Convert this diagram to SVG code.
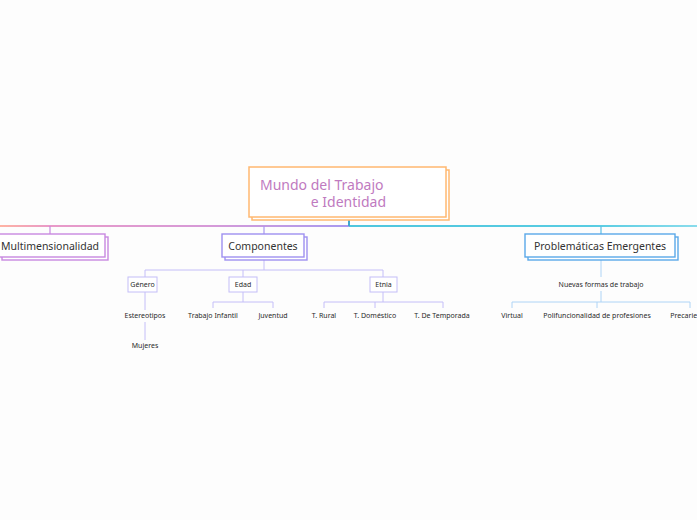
<svg xmlns="http://www.w3.org/2000/svg" width="697" height="520" viewBox="0 0 697 520">
<defs>
<linearGradient id="gl" x1="0" y1="0" x2="349" y2="0" gradientUnits="userSpaceOnUse">
<stop offset="0" stop-color="#FFB3A3"/>
<stop offset="0.14" stop-color="#E99AC8"/>
<stop offset="0.6" stop-color="#D69AD8"/>
<stop offset="1" stop-color="#A89AF0"/>
</linearGradient>
<linearGradient id="gr" x1="349" y1="0" x2="697" y2="0" gradientUnits="userSpaceOnUse">
<stop offset="0" stop-color="#4FC6DE"/>
<stop offset="0.7" stop-color="#58CCE2"/>
<stop offset="1" stop-color="#8ADCEC"/>
</linearGradient>
</defs>
<style>
text{font-family:"Noto Sans","Liberation Sans",sans-serif;fill:#333;}
.root{fill:#C07ABF;font-size:14px;}
.main{font-size:10.5px;text-anchor:middle;}
.sm{font-size:7px;text-anchor:middle;fill:#2a2a2a;}
.box{fill:#fff;stroke-width:1.4;}
.sbox{fill:#fff;stroke:#C4BEF8;stroke-width:1;}
.lc{fill:none;stroke:#C4BEF8;stroke-width:1;}
.lb{fill:none;stroke:#AED4F6;stroke-width:1;}
</style>
<rect width="697" height="520" fill="#fdfdfd"/>
<g id="connectors">
<line x1="0" y1="226" x2="349" y2="226" stroke="url(#gl)" stroke-width="2"/>
<line x1="349" y1="226" x2="697" y2="226" stroke="url(#gr)" stroke-width="2"/>
<line x1="349" y1="217" x2="349" y2="226" stroke="#3FA8D0" stroke-width="2"/>
<line x1="50" y1="226" x2="50" y2="234" stroke="#C888E0" stroke-width="1.2"/>
<line x1="264" y1="226" x2="264" y2="234" stroke="#A898F0" stroke-width="1.2"/>
<line x1="601" y1="226" x2="601" y2="234" stroke="#5ABFE6" stroke-width="1.2"/>
<path class="lc" d="M264 257V270M145 270H383M145 270V277M243 270V277M383 270V277"/>
<path class="lc" d="M145 292V310M145 322V340"/>
<path class="lc" d="M243 292V302M213 302H273M213 302V308M273 302V308"/>
<path class="lc" d="M383 292V302M324 302H443M324 302V308M375 302V308M443 302V308"/>
<path class="lb" d="M601 257V277M601 291V302M512 302H690M512 302V308M597 302V308M690 302V308"/>
</g>
<g id="root">
<rect x="252" y="170" width="197" height="50" fill="#fff" stroke="#FFB870" stroke-width="1.5"/>
<rect x="249" y="167" width="197" height="50" fill="#fff" stroke="#FFB870" stroke-width="1.5"/>
<text class="root" x="260" y="190">Mundo del Trabajo</text>
<text class="root" x="386" y="207" text-anchor="end">e Identidad</text>
</g>
<g id="multimensionalidad">
<rect class="box" x="2" y="237" width="106" height="23" stroke="#C888E0"/>
<rect class="box" x="-1" y="234" width="106" height="23" stroke="#C888E0"/>
<text class="main" x="50" y="250">Multimensionalidad</text>
</g>
<g id="componentes">
<rect class="box" x="225" y="237" width="82" height="23" stroke="#9E90F0"/>
<rect class="box" x="222" y="234" width="82" height="23" stroke="#9E90F0"/>
<text class="main" x="263" y="250">Componentes</text>
</g>
<g id="problematicas">
<rect class="box" x="528" y="237" width="150" height="23" stroke="#5AA8E8"/>
<rect class="box" x="525" y="234" width="150" height="23" stroke="#5AA8E8"/>
<text class="main" x="600" y="250">Problemáticas Emergentes</text>
</g>
<g id="genero"><rect class="sbox" x="128" y="277" width="29" height="15"/><text class="sm" x="142.5" y="287">Género</text></g>
<g id="edad"><rect class="sbox" x="229" y="277" width="28" height="15"/><text class="sm" x="243" y="287">Edad</text></g>
<g id="etnia"><rect class="sbox" x="370" y="277" width="27" height="15"/><text class="sm" x="383.5" y="287">Etnia</text></g>
<g id="estereotipos"><text class="sm" x="145" y="318">Estereotipos</text></g>
<g id="mujeres"><text class="sm" x="145" y="348">Mujeres</text></g>
<g id="trabajo-infantil"><text class="sm" x="213" y="318">Trabajo Infantil</text></g>
<g id="juventud"><text class="sm" x="273" y="318">Juventud</text></g>
<g id="t-rural"><text class="sm" x="324" y="318">T. Rural</text></g>
<g id="t-domestico"><text class="sm" x="375" y="318">T. Doméstico</text></g>
<g id="t-temporada"><text class="sm" x="442" y="318">T. De Temporada</text></g>
<g id="nuevas-formas"><text class="sm" x="601" y="287">Nuevas formas de trabajo</text></g>
<g id="virtual"><text class="sm" x="512" y="318">Virtual</text></g>
<g id="polifuncionalidad"><text class="sm" x="597" y="318">Polifuncionalidad de profesiones</text></g>
<g id="precariedad"><text class="sm" x="690" y="318">Precariedad</text></g>
</svg>
